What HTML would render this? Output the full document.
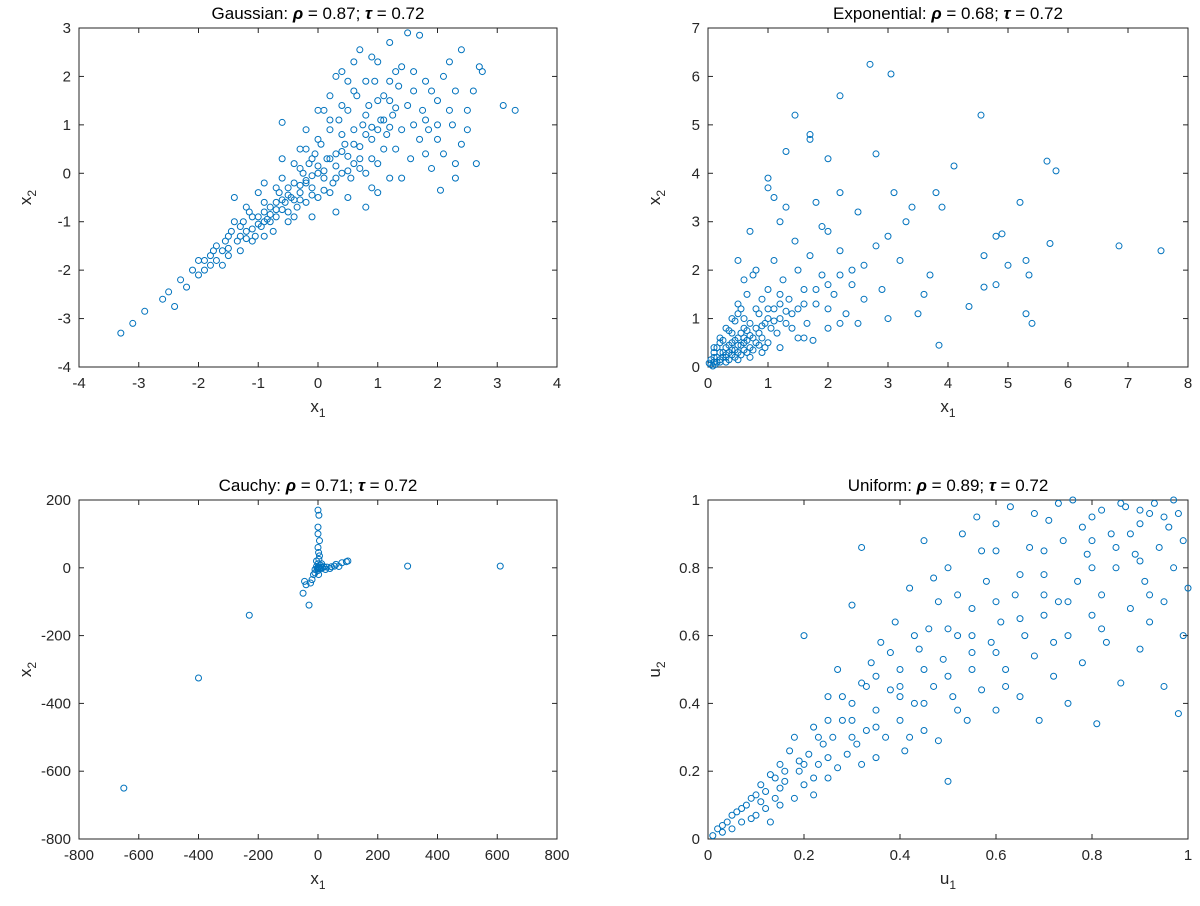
<!DOCTYPE html>
<html><head><meta charset="utf-8"><style>
html,body{margin:0;padding:0;background:#fff;}
svg{display:block;font-family:"Liberation Sans",Helvetica,Arial,sans-serif;}
</style></head><body>
<svg id="fig" width="1200" height="906" viewBox="0 0 1200 906"></svg>
<script>
const gaussPts=[[-3.3,-3.3],[-3.1,-3.1],[-2.9,-2.85],[-2.6,-2.6],[-2.5,-2.45],[-2.4,-2.75],[-2.3,-2.2],[-2.2,-2.35],[-2.1,-2.0],[-2,-1.8],[-1.9,-2.0],[-1.8,-1.7],[-1.7,-1.5],[-1.6,-1.9],[-1.5,-1.3],[-1.4,-0.5],[-1.3,-1.1],[-1.2,-1.2],[-1.1,-0.9],[-1.0,-0.4],[-0.9,-0.8],[-0.8,-1.0],[-0.7,-0.6],[-0.6,1.05],[-0.5,-0.3],[-0.4,-0.9],[-0.3,0.5],[-0.2,-0.2],[-0.1,0.3],[0,0],[0.1,1.3],[0.2,-0.4],[0.3,2.0],[0.4,0.8],[0.5,1.9],[0.6,0.2],[0.7,2.55],[0.8,1.2],[0.9,-0.3],[1.0,2.3],[1.1,0.5],[1.2,1.5],[1.3,2.1],[1.4,-0.1],[1.5,2.9],[1.6,1.0],[1.7,2.85],[1.8,0.4],[1.9,1.7],[2.0,0.7],[2.05,-0.35],[2.1,2.0],[2.2,1.3],[2.3,0.2],[2.4,2.55],[2.5,0.9],[2.6,1.7],[2.65,0.2],[2.7,2.2],[2.75,2.1],[3.1,1.4],[3.3,1.3],[2.3,-0.1],
[-1.9,-1.8],[-1.8,-1.9],[-1.75,-1.6],[-1.6,-1.6],[-1.55,-1.4],[-1.5,-1.55],[-1.45,-1.2],[-1.35,-1.4],[-1.3,-1.3],[-1.25,-1.0],[-1.2,-1.35],[-1.15,-0.8],[-1.1,-1.15],[-1.05,-1.3],[-1.0,-0.9],[-0.95,-1.1],[-0.9,-0.6],[-0.85,-0.95],[-0.8,-0.7],[-0.75,-1.2],[-0.7,-0.9],[-0.65,-0.4],[-0.6,-0.75],[-0.55,-0.6],[-0.5,-1.0],[-0.45,-0.5],[-0.4,-0.2],[-0.35,-0.7],[-0.3,-0.4],[-0.25,0.0],[-0.2,-0.6],[-0.15,0.2],[-0.1,-0.3],[-0.05,0.4],[0,-0.5],[0.05,0.6],[0.1,-0.1],[0.15,0.3],[0.2,0.9],[0.25,-0.2],[0.3,0.4],[0.35,1.1],[0.4,0.0],[0.45,0.6],[0.5,1.3],[0.55,-0.1],[0.6,0.9],[0.65,1.6],[0.7,0.3],[0.75,1.0],[0.8,0.0],[0.85,1.4],[0.9,0.7],[0.95,1.9],[1.0,0.2],[1.05,1.1],[1.1,1.6],[1.15,0.8],[1.2,-0.1],[1.25,1.2],[1.3,0.5],[1.35,1.8],[1.4,0.9],[1.5,1.4],[1.55,0.3],[1.6,2.1],[1.7,0.7],[1.75,1.3],[1.8,1.9],[1.85,0.9],[1.9,0.1],[2.0,1.5],[2.1,0.4],[2.2,2.3],[2.25,1.0],[2.3,1.7],[2.4,0.6],[2.5,1.3],[0.4,2.1],[0.6,2.3],[0.2,1.6],[0.0,1.3],[-0.2,0.9],[0.9,2.4],[1.2,2.7],[0.3,-0.8],[-0.1,-0.9],[0.5,-0.5],[0.8,-0.7],[1.0,-0.4],[-0.6,0.3],[-0.9,-0.2],[-0.3,0.1],[-0.7,-0.3]];
const gaussCore=[[-1.0,-1.05],[-0.9,-1.0],[-0.8,-0.85],[-0.7,-0.75],[-0.6,-0.55],[-0.5,-0.45],[-0.4,-0.55],[-0.3,-0.25],[-0.2,-0.15],[-0.1,-0.05],[0,0.15],[0.1,0.05],[0.2,0.3],[0.3,0.15],[0.4,0.45],[0.5,0.35],[0.6,0.6],[0.7,0.55],[0.8,0.8],[0.9,0.95],[1.0,0.9],[1.1,1.1],[1.2,0.95],[1.3,1.35],[-0.5,-0.8],[-0.3,-0.55],[-0.1,-0.45],[0.1,-0.35],[0.3,-0.1],[0.5,0.05],[0.7,0.1],[0.9,0.3],[-0.6,-0.1],[-0.4,0.2],[-0.2,0.5],[0,0.7],[0.2,1.1],[0.4,1.4],[0.6,1.7],[0.8,1.9],[1.0,1.5],[1.2,1.9],[1.4,2.2],[1.6,1.7],[1.8,1.1],[2.0,1.0],[-1.3,-1.6],[-1.1,-1.4],[-0.9,-1.3],[-1.5,-1.7],[-1.7,-1.8],[-2.0,-2.1],[-1.2,-0.7],[-1.4,-1.0]];
const expoPts=[[2.7,6.25],[3.05,6.05],[2.2,5.6],[1.45,5.2],[4.55,5.2],[1.7,4.8],[1.7,4.7],[1.3,4.45],[2.0,4.3],[2.8,4.4],[4.1,4.15],[5.65,4.25],[5.8,4.05],[1.0,3.9],[3.8,3.6],[6.85,2.5],[7.55,2.4],[5.3,2.2],[5.35,1.9],[5.0,2.1],[5.2,3.4],[4.6,2.3],[4.8,2.7],[4.9,2.75],[5.7,2.55],[5.3,1.1],[5.4,0.9],[3.85,0.45],[4.35,1.25],[4.6,1.65],[4.8,1.7],[3.7,1.9],[3.4,3.3],[3.1,3.6],[3.3,3.0],[3.9,3.3],[2.5,3.2],[2.8,2.5],[2.4,2.0],[2.0,2.8],[3.0,1.0],[2.6,1.4],[2.0,1.2],[1.5,2.0],[1.2,3.0],[1.8,3.4],[3.2,2.2],[3.6,1.5],[2.2,0.9],[1.6,0.6],[1.2,1.5],[1.0,1.0],[0.8,2.0],[0.5,1.1],[0.6,0.5],
[0.05,0.05],[0.1,0.1],[0.1,0.2],[0.15,0.1],[0.2,0.3],[0.2,0.15],[0.25,0.2],[0.3,0.4],[0.3,0.2],[0.35,0.3],[0.4,0.5],[0.4,0.25],[0.45,0.35],[0.5,0.6],[0.5,0.3],[0.55,0.45],[0.6,0.8],[0.6,0.35],[0.65,0.55],[0.7,0.9],[0.7,0.4],[0.75,0.6],[0.8,1.2],[0.8,0.5],[0.85,0.7],[0.9,1.4],[0.9,0.6],[0.95,0.9],[1.0,1.6],[1.0,0.5],[1.05,0.8],[1.1,1.2],[1.1,2.2],[1.15,0.7],[1.2,1.0],[1.25,1.8],[1.3,0.9],[1.35,1.4],[1.4,0.8],[1.45,2.6],[1.5,1.2],[1.6,1.6],[1.65,0.9],[1.7,2.3],[1.8,1.3],[1.9,1.9],[2.0,0.8],[2.1,1.5],[2.2,2.4],[2.3,1.1],[2.4,1.7],[2.5,0.9],[0.15,0.4],[0.25,0.55],[0.35,0.75],[0.45,0.95],[0.55,1.2],[0.65,1.5],[0.75,1.9],[0.3,0.1],[0.5,0.15],[0.7,0.2],[0.9,0.3],[0.4,0.7],[0.2,0.5],[0.1,0.3],[0.05,0.15],[0.08,0.02],[0.02,0.08],[0.12,0.05],[0.6,1.0],[0.85,1.1],[1.2,0.4],[1.5,0.6],[1.75,0.55],[2.6,2.1],[2.9,1.6],[3.0,2.7],[3.5,1.1],[2.2,3.6],[1.9,2.9],[1.3,3.3],[0.5,2.2],[0.7,2.8],[1.0,3.7],[1.1,3.5]];
const expoCore=[[0.15,0.2],[0.25,0.3],[0.35,0.45],[0.45,0.55],[0.55,0.7],[0.65,0.75],[0.2,0.1],[0.3,0.25],[0.4,0.35],[0.5,0.45],[0.6,0.6],[0.7,0.65],[0.8,0.8],[0.9,0.85],[1.0,1.2],[1.1,0.95],[1.2,1.3],[1.3,1.15],[0.35,0.15],[0.45,0.2],[0.55,0.25],[0.65,0.3],[0.75,0.35],[0.85,0.45],[0.95,0.4],[0.1,0.4],[0.2,0.6],[0.3,0.8],[0.4,1.0],[0.5,1.3],[0.6,1.8],[1.4,1.1],[1.6,1.3],[1.8,1.6],[2.0,1.7],[2.2,1.9]];
const cauchyPts=[[0,0],[2,3],[-3,-2],[5,-1],[-5,4],[10,2],[-10,-5],[8,8],[0,12],[0,-8],[15,0],[20,3],[30,2],[45,3],[55,5],[70,4],[80,15],[95,18],[100,20],[60,10],[-15,-20],[-20,-35],[-25,-45],[-40,-50],[-50,-75],[-30,-110],[-45,-40],[-10,-15],[3,25],[5,35],[2,45],[0,60],[5,80],[0,100],[0,120],[3,155],[0,170],[-5,20],[10,-3],[25,-5],[300,5],[610,5],[-230,-140],[-400,-325],[-650,-650],[2,-20],[12,12],[40,-2]];
const unifPts=[[0.01,0.01],[0.02,0.03],[0.03,0.02],[0.04,0.05],[0.05,0.03],[0.06,0.08],[0.07,0.05],[0.08,0.1],[0.09,0.06],[0.1,0.13],[0.1,0.07],[0.11,0.16],[0.12,0.09],[0.13,0.19],[0.13,0.05],[0.14,0.12],[0.15,0.22],[0.15,0.1],[0.16,0.17],[0.17,0.26],[0.18,0.12],[0.18,0.3],[0.19,0.2],[0.2,0.16],[0.2,0.6],[0.21,0.25],[0.22,0.13],[0.22,0.33],[0.23,0.22],[0.24,0.28],[0.25,0.18],[0.25,0.42],[0.26,0.3],[0.27,0.21],[0.27,0.5],[0.28,0.35],[0.29,0.25],[0.3,0.69],[0.3,0.4],[0.31,0.28],[0.32,0.46],[0.32,0.86],[0.33,0.32],[0.34,0.52],[0.35,0.24],[0.35,0.38],[0.36,0.58],[0.37,0.3],[0.38,0.44],[0.39,0.64],[0.4,0.35],[0.4,0.5],[0.41,0.26],[0.42,0.74],[0.43,0.4],[0.44,0.56],[0.45,0.32],[0.45,0.88],[0.46,0.62],[0.47,0.45],[0.48,0.29],[0.48,0.7],[0.49,0.53],[0.5,0.17],[0.5,0.8],[0.51,0.42],[0.52,0.6],[0.53,0.9],[0.54,0.35],[0.55,0.68],[0.55,0.5],[0.56,0.95],[0.57,0.44],[0.58,0.76],[0.59,0.58],[0.6,0.38],[0.6,0.85],[0.61,0.64],[0.62,0.5],[0.63,0.98],[0.64,0.72],[0.65,0.42],[0.66,0.6],[0.67,0.86],[0.68,0.54],[0.69,0.35],[0.7,0.78],[0.7,0.66],[0.71,0.94],[0.72,0.48],[0.73,0.7],[0.74,0.88],[0.75,0.4],[0.75,0.6],[0.76,1.0],[0.77,0.76],[0.78,0.52],[0.79,0.84],[0.8,0.66],[0.8,0.95],[0.81,0.34],[0.82,0.72],[0.83,0.58],[0.84,0.9],[0.85,0.8],[0.86,0.46],[0.87,0.98],[0.88,0.68],[0.89,0.84],[0.9,0.56],[0.9,0.93],[0.91,0.76],[0.92,0.64],[0.93,0.99],[0.94,0.86],[0.95,0.7],[0.95,0.45],[0.96,0.92],[0.97,0.8],[0.98,0.37],[0.98,0.96],[0.99,0.88],[1.0,0.74],[0.99,0.6],[0.97,1.0],[0.92,0.96],[0.86,0.99],[0.88,0.9],[0.82,0.97],[0.78,0.92],[0.73,0.99],[0.68,0.96],[0.6,0.93],[0.57,0.85],[0.52,0.72],[0.47,0.77],[0.43,0.6],[0.38,0.55],[0.33,0.45],[0.28,0.42],[0.23,0.3],[0.19,0.23],[0.16,0.2],[0.14,0.18],[0.11,0.11],[0.09,0.12],[0.07,0.09],[0.05,0.07],[0.03,0.04]];
const unifCore=[[0.15,0.15],[0.2,0.22],[0.25,0.24],[0.3,0.3],[0.35,0.33],[0.4,0.42],[0.45,0.4],[0.5,0.48],[0.55,0.55],[0.6,0.55],[0.65,0.65],[0.7,0.72],[0.75,0.7],[0.8,0.8],[0.85,0.86],[0.9,0.82],[0.95,0.95],[0.3,0.35],[0.4,0.45],[0.5,0.62],[0.6,0.7],[0.7,0.85],[0.8,0.88],[0.9,0.97],[0.45,0.5],[0.55,0.6],[0.65,0.78],[0.35,0.48],[0.25,0.35],[0.62,0.45],[0.72,0.58],[0.82,0.62],[0.92,0.72],[0.52,0.38],[0.42,0.3],[0.32,0.22],[0.22,0.18],[0.12,0.14]];
const gaussXTicks=[-4,-3,-2,-1,0,1,2,3,4], gaussYTicks=[-4,-3,-2,-1,0,1,2,3];
const expoXTicks=[0,1,2,3,4,5,6,7,8], expoYTicks=[0,1,2,3,4,5,6,7];
const cauchyXTicks=[-800,-600,-400,-200,0,200,400,600,800], cauchyYTicks=[-800,-600,-400,-200,0,200];
const unifXTicks=[0,0.2,0.4,0.6,0.8,1], unifYTicks=[0,0.2,0.4,0.6,0.8,1];
const titles=[["Gaussian","0.87","0.72"],["Exponential","0.68","0.72"],["Cauchy","0.71","0.72"],["Uniform","0.89","0.72"]];

const NS="http://www.w3.org/2000/svg";
const svg=document.getElementById('fig');
function mk(tag,attrs,parent){const e=document.createElementNS(NS,tag);for(const k in attrs)e.setAttribute(k,attrs[k]);(parent||svg).appendChild(e);return e;}

function panel(key,box,xd,yd,xt,yt,pts,title,varName){
  const [L,T,R,B]=box;
  const sx=v=>L+(v-xd[0])/(xd[1]-xd[0])*(R-L);
  const sy=v=>B-(v-yd[0])/(yd[1]-yd[0])*(B-T);
  const g=mk('g',{});
  
  
  const frame=mk('rect',{x:L,y:T,width:R-L,height:B-T,fill:'#fff',stroke:'#262626','stroke-width':1},g);
  
  
  xt.forEach(v=>{
    const x=sx(v);
    mk('line',{x1:x,y1:B,x2:x,y2:B-5,stroke:'#262626'},g);
    mk('line',{x1:x,y1:T,x2:x,y2:T+5,stroke:'#262626'},g);
    const t=mk('text',{x:x,y:B+21,'text-anchor':'middle','font-size':15,fill:'#262626'},g);
    t.textContent=String(v);
    
    
  });
  yt.forEach(v=>{
    const y=sy(v);
    mk('line',{x1:L,y1:y,x2:L+5,y2:y,stroke:'#262626'},g);
    mk('line',{x1:R,y1:y,x2:R-5,y2:y,stroke:'#262626'},g);
    const t=mk('text',{x:L-8,y:y+5,'text-anchor':'end','font-size':15,fill:'#262626'},g);
    t.textContent=String(v);
    
    
  });
  pts.forEach(p=>{
    const c=mk('circle',{cx:sx(p[0]),cy:sy(p[1]),r:3,fill:'none',stroke:'#0072BD','stroke-width':1},g);
    
    
  });
  const tt=mk('text',{x:(L+R)/2,y:T-9,'text-anchor':'middle','font-size':17,fill:'#000'},g);
  
  
  tt.innerHTML=title[0]+': <tspan font-weight="bold" font-style="italic">ρ</tspan> = '+title[1]+'; <tspan font-weight="bold" font-style="italic">τ</tspan> = '+title[2];
  const xl=mk('text',{x:(L+R)/2,y:B+45,'text-anchor':'middle','font-size':17,fill:'#262626'},g);
  
  
  xl.innerHTML=varName+'<tspan font-size="12" dy="5">1</tspan>';
  const cy=(T+B)/2, cx=L-48;
  const yl=mk('text',{x:cx,y:cy,'text-anchor':'middle','font-size':17,fill:'#262626',transform:'rotate(-90 '+cx+' '+cy+')'},g);
  
  
  yl.innerHTML=varName+'<tspan font-size="12" dy="5">2</tspan>';
}
panel('gaussian',[79,28,557,367],[-4,4],[-4,3],gaussXTicks,gaussYTicks,gaussPts.concat(gaussCore),titles[0],'x');
panel('exponential',[708,28,1188,367],[0,8],[0,7],expoXTicks,expoYTicks,expoPts.concat(expoCore),titles[1],'x');
panel('cauchy',[79,500,557,839],[-800,800],[-800,200],cauchyXTicks,cauchyYTicks,cauchyPts,titles[2],'x');
panel('uniform',[708,500,1188,839],[0,1],[0,1],unifXTicks,unifYTicks,unifPts.concat(unifCore),titles[3],'u');
</script>
</body></html>
